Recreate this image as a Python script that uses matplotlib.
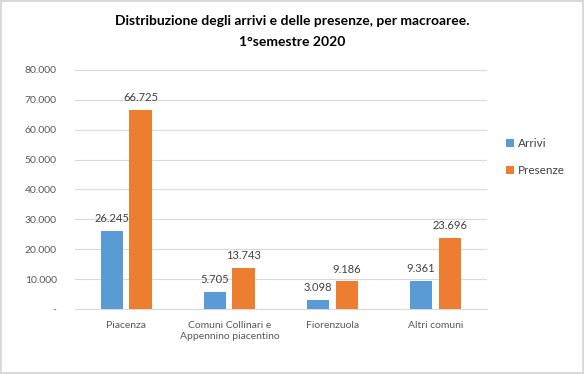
import matplotlib.pyplot as plt
import numpy as np

plt.rcParams['font.family'] = ['Lato', 'DejaVu Sans']

categories = ['Piacenza', 'Comuni Collinari e\nAppennino piacentino', 'Fiorenzuola', 'Altri comuni']
arrivi = [26245, 5705, 3098, 9361]
presenze = [66725, 13743, 9186, 23696]
yticks = np.arange(0, 80001, 10000)
ytick_labels = ['-'] + ['{:,}'.format(v).replace(',', '.') for v in yticks[1:]]

blue = '#5b9bd5'
orange = '#ed7d31'

fig = plt.figure(figsize=(5.84, 3.74), dpi=100)
fig.patch.set_edgecolor('#d9d9d9')
fig.patch.set_linewidth(1.5)
ax = fig.add_axes([0.128, 0.174, 0.706, 0.639])

x = np.arange(len(categories))
w = 0.22
b1 = ax.bar(x - w / 2 - 0.03, arrivi, w, color=blue, label='Arrivi', zorder=3)
b2 = ax.bar(x + w / 2 + 0.03, presenze, w, color=orange, label='Presenze', zorder=3)

def fmt(v):
    return '{:,}'.format(v).replace(',', '.')

for bars, vals in ((b1, arrivi), (b2, presenze)):
    for r, v in zip(bars, vals):
        ax.annotate(fmt(v), (r.get_x() + r.get_width() / 2, v), xytext=(0, 5),
                    textcoords='offset points', ha='center', va='bottom',
                    fontsize=8, color='#404040')

ax.set_xlim(-0.5, len(categories) - 0.5)
ax.set_ylim(0, 80000)
ax.set_yticks(yticks)
ax.set_yticklabels(ytick_labels)
ax.set_xticks(x)
ax.set_xticklabels(categories)
ax.yaxis.grid(True, color='#d9d9d9', linewidth=0.8, zorder=0)
for s in ['top', 'right', 'left']:
    ax.spines[s].set_visible(False)
ax.spines['bottom'].set_color('#d9d9d9')
ax.tick_params(axis='both', length=0, labelsize=7.5, colors='#595959', pad=9)
ax.tick_params(axis='y', pad=13)

fig.text(0.5, 0.945, 'Distribuzione degli arrivi e delle presenze, per macroaree.',
         ha='center', va='center', fontsize=10, fontweight='bold', color='black')
fig.text(0.5, 0.887, '1°semestre 2020', ha='center', va='center',
         fontsize=10, fontweight='bold', color='black')

ax.legend(loc='center left', bbox_to_anchor=(1.02, 0.635), frameon=False,
          fontsize=8.5, labelcolor='#404040', handlelength=0.7, handleheight=0.7,
          handletextpad=0.3, labelspacing=1.4)

fig.savefig('out.png', dpi=100)
